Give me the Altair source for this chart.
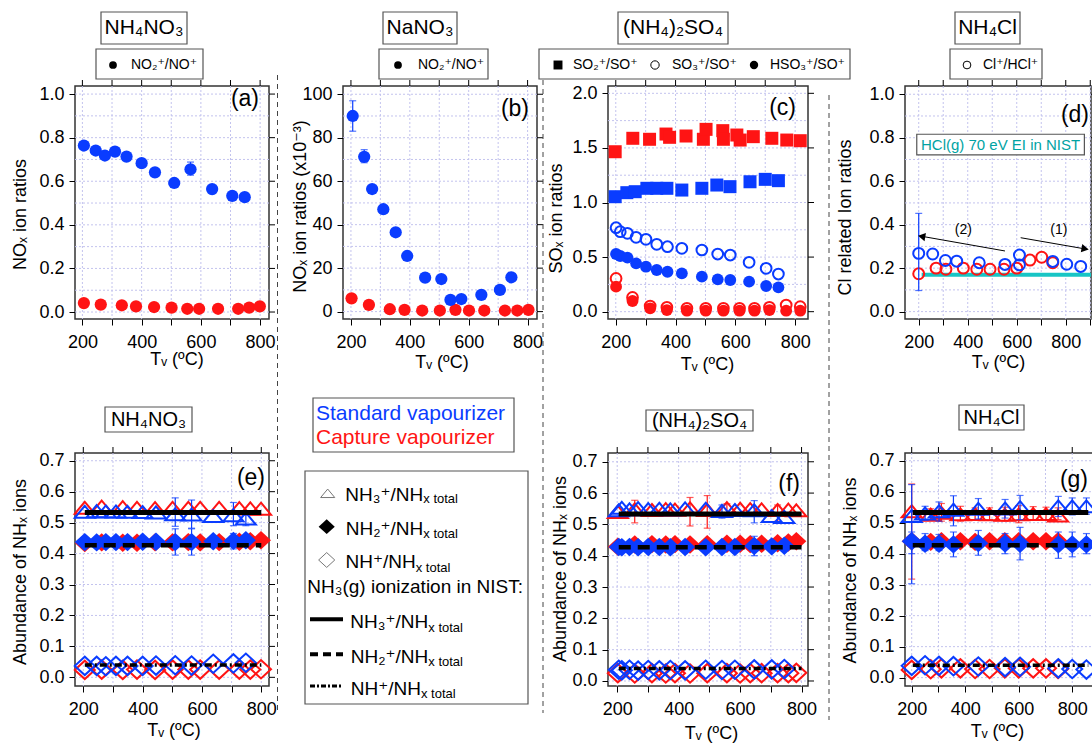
import altair as alt
import pandas as pd

FONT = "Liberation Sans, Arial, DejaVu Sans, sans-serif"
BLUE = "#0a3cff"
RED = "#ff1414"
TEAL_LINE = "#18c5c5"
TEAL_TXT = "#00a3a3"
GRID = "#c3c3ee"
BOX = "#555555"

# ---------------- data ----------------
# (a) NH4NO3  NO2+/NO+
a_std_x = [205, 245, 276, 310, 349, 400, 445, 510, 565, 638, 706, 748]
a_std_y = [0.764, 0.741, 0.718, 0.736, 0.713, 0.683, 0.641, 0.592, 0.655, 0.564, 0.533, 0.527]
a_err_x = [565]
a_err_lo = [0.628]
a_err_hi = [0.688]
a_cap_x = [205, 262, 333, 381, 442, 501, 554, 594, 658, 726, 763, 799]
a_cap_y = [0.041, 0.034, 0.031, 0.026, 0.023, 0.020, 0.015, 0.015, 0.015, 0.015, 0.020, 0.026]

# (b) NaNO3  NO2+/NO+ (x1e-3)
b_std_x = [206, 245, 272, 310, 352, 391, 452, 507, 538, 575, 643, 706, 745]
b_std_y = [90.0, 71.2, 56.4, 47.1, 36.5, 25.6, 15.6, 15.0, 5.4, 5.8, 7.7, 10.0, 15.8]
b_err_x = [206, 245]
b_err_lo = [83.0, 68.5]
b_err_hi = [97.0, 74.5]
b_cap_x = [202, 261, 332, 382, 442, 502, 555, 601, 653, 723, 765, 803]
b_cap_y = [6.1, 3.1, 1.1, 0.8, 0.5, 0.5, 0.8, 0.5, 0.5, 0.5, 0.5, 0.8]

# (c) (NH4)2SO4
c_so2_std_x = [198, 237, 265, 304, 337, 371, 421, 488, 538, 582, 649, 700, 744]
c_so2_std_y = [1.053, 1.090, 1.099, 1.130, 1.130, 1.130, 1.114, 1.130, 1.160, 1.145, 1.190, 1.212, 1.200]
c_so2_cap_x = [198, 257, 313, 368, 380, 435, 493, 502, 558, 560, 605, 616, 660, 722, 772, 817]
c_so2_cap_y = [1.465, 1.588, 1.579, 1.627, 1.597, 1.609, 1.579, 1.670, 1.658, 1.579, 1.618, 1.572, 1.603, 1.588, 1.572, 1.566]
c_std_x = [201, 215, 239, 268, 301, 337, 373, 421, 488, 541, 583, 646, 703, 744]
c_so3_std_y = [0.769, 0.733, 0.718, 0.681, 0.663, 0.617, 0.595, 0.580, 0.565, 0.528, 0.519, 0.452, 0.397, 0.345]
c_hso3_std_y = [0.528, 0.510, 0.495, 0.443, 0.412, 0.382, 0.366, 0.351, 0.321, 0.296, 0.290, 0.275, 0.235, 0.223]
c_cap_x = [201, 256, 315, 371, 438, 501, 560, 614, 664, 714, 770, 817]
c_so3_cap_y = [0.305, 0.131, 0.052, 0.040, 0.031, 0.031, 0.031, 0.031, 0.031, 0.040, 0.061, 0.046]
c_hso3_cap_y = [0.229, 0.098, 0.031, 0.015, 0.009, 0.009, 0.009, 0.009, 0.009, 0.015, 0.009, 0.009]

# (d) NH4Cl  Cl+/HCl+
d_std_x = [200, 257, 309, 355, 447, 552, 611, 611, 747, 804, 861]
d_std_y = [0.268, 0.265, 0.235, 0.232, 0.225, 0.217, 0.260, 0.215, 0.231, 0.218, 0.208]
d_err_x = [200]
d_err_lo = [0.097]
d_err_hi = [0.452]
d_cap_x = [200, 271, 311, 382, 437, 491, 548, 600, 654, 702, 747]
d_cap_y = [0.174, 0.200, 0.195, 0.200, 0.195, 0.195, 0.195, 0.200, 0.237, 0.250, 0.225]
d_nist_x = [212]
d_nist_x2 = [903]
d_nist_y = [0.170]
d_arrow_x = [552, 616]
d_arrow_y = [0.279, 0.340]
d_arrow_x2 = [205, 886]
d_arrow_y2 = [0.348, 0.287]
d_arrow_lab = ["(2)", "(1)"]
d_arrow_lab_x = [382, 772]
d_arrow_lab_y = [0.374, 0.374]
d_hcl_box = [192, 876, 0.721, 0.816]
d_hcl_text = ["HCl(g) 70 eV EI in NIST"]

# (e) NH4NO3 NHx abundances
e_std_x = [205, 245, 276, 310, 349, 400, 445, 510, 565, 638, 706, 748]
e_nh3_std = [0.535, 0.537, 0.536, 0.536, 0.535, 0.534, 0.533, 0.527, 0.526, 0.521, 0.524, 0.513]
e_nh2_std = [0.437, 0.436, 0.437, 0.437, 0.437, 0.438, 0.438, 0.437, 0.437, 0.440, 0.441, 0.443]
e_nh_std = [0.037, 0.037, 0.036, 0.037, 0.037, 0.037, 0.038, 0.039, 0.038, 0.044, 0.045, 0.047]
e_nh3_err_x = [510, 565, 706, 748]
e_nh3_err_lo = [0.488, 0.482, 0.490, 0.490]
e_nh3_err_hi = [0.580, 0.573, 0.565, 0.525]
e_nh2_err_x = [510, 565, 706]
e_nh2_err_lo = [0.395, 0.395, 0.415]
e_nh2_err_hi = [0.480, 0.480, 0.465]
e_cap_x = [205, 262, 333, 381, 442, 501, 554, 594, 658, 726, 763, 799]
e_nh3_cap = [0.548, 0.552, 0.550, 0.548, 0.547, 0.548, 0.548, 0.548, 0.548, 0.547, 0.546, 0.545]
e_nh2_cap = [0.434, 0.436, 0.435, 0.435, 0.436, 0.436, 0.437, 0.436, 0.437, 0.438, 0.440, 0.443]
e_nh_cap = [0.024, 0.025, 0.024, 0.025, 0.024, 0.025, 0.025, 0.025, 0.025, 0.025, 0.025, 0.026]

# (f) (NH4)2SO4 NHx abundances
f_std_x = [205, 215, 240, 268, 301, 337, 373, 421, 488, 541, 583, 646, 703, 744]
f_nh3_std = [0.545, 0.553, 0.548, 0.552, 0.549, 0.550, 0.548, 0.551, 0.550, 0.543, 0.546, 0.545, 0.527, 0.524]
f_nh2_std = [0.428, 0.427, 0.428, 0.427, 0.428, 0.428, 0.427, 0.428, 0.427, 0.428, 0.428, 0.431, 0.430, 0.432]
f_nh_std = [0.036, 0.034, 0.036, 0.033, 0.035, 0.034, 0.035, 0.034, 0.036, 0.035, 0.036, 0.037, 0.037, 0.038]
f_nh3_std_err_x = [541, 646]
f_nh3_std_err_lo = [0.520, 0.505]
f_nh3_std_err_hi = [0.562, 0.576]
f_nh2_std_err_x = [646]
f_nh2_std_err_lo = [0.400]
f_nh2_std_err_hi = [0.462]
f_cap_x = [202, 257, 313, 358, 388, 437, 493, 557, 600, 633, 670, 722, 757, 783]
f_nh3_cap = [0.540, 0.548, 0.546, 0.549, 0.547, 0.551, 0.546, 0.552, 0.550, 0.549, 0.548, 0.546, 0.547, 0.545]
f_nh2_cap = [0.429, 0.436, 0.437, 0.436, 0.437, 0.436, 0.437, 0.438, 0.438, 0.437, 0.438, 0.440, 0.442, 0.446]
f_nh_cap = [0.025, 0.024, 0.025, 0.024, 0.025, 0.024, 0.025, 0.025, 0.024, 0.025, 0.025, 0.025, 0.025, 0.026]
f_nh3_cap_err_x = [257, 437, 493, 557, 722]
f_nh3_cap_err_lo = [0.505, 0.495, 0.488, 0.525, 0.510]
f_nh3_cap_err_hi = [0.577, 0.586, 0.592, 0.566, 0.562]

# (g) NH4Cl NHx abundances
g_std_x = [200, 250, 302, 356, 449, 549, 605, 748, 800, 853]
g_nh3_std = [0.522, 0.530, 0.537, 0.542, 0.545, 0.546, 0.550, 0.553, 0.553, 0.553]
g_nh3_std_lo = [0.303, 0.508, 0.505, 0.490, 0.512, 0.515, 0.510, 0.520, 0.525, 0.527]
g_nh3_std_hi = [0.623, 0.553, 0.567, 0.587, 0.578, 0.575, 0.588, 0.585, 0.580, 0.580]
g_nh2_std = [0.440, 0.432, 0.432, 0.430, 0.434, 0.433, 0.432, 0.430, 0.430, 0.430]
g_nh2_std_lo = [0.400, 0.410, 0.410, 0.390, 0.395, 0.400, 0.380, 0.385, 0.390, 0.400]
g_nh2_std_hi = [0.470, 0.465, 0.462, 0.470, 0.475, 0.465, 0.485, 0.470, 0.470, 0.465]
g_nh_std = [0.038, 0.040, 0.038, 0.037, 0.036, 0.034, 0.035, 0.030, 0.028, 0.026]
g_cap_x = [200, 271, 311, 382, 437, 491, 548, 600, 654, 702, 747]
g_nh3_cap = [0.537, 0.526, 0.532, 0.527, 0.528, 0.527, 0.526, 0.527, 0.528, 0.528, 0.523]
g_nh3_cap_lo = [0.318, 0.510, 0.505, 0.505, 0.510, 0.510, 0.505, 0.500, 0.510, 0.510, 0.510]
g_nh3_cap_hi = [0.625, 0.545, 0.562, 0.553, 0.548, 0.548, 0.550, 0.555, 0.552, 0.550, 0.548]
g_nh2_cap = [0.440, 0.438, 0.440, 0.440, 0.438, 0.440, 0.440, 0.440, 0.440, 0.440, 0.440]
g_nh_cap = [0.025, 0.027, 0.030, 0.030, 0.028, 0.028, 0.030, 0.030, 0.030, 0.030, 0.028]

# NIST NH3(g) reference fractions and their x spans
nist_nh3 = 0.533
nist_nh2 = 0.427
nist_nh = 0.040
e_nist_span = [205, 800]
f_nist_span = [205, 800]
g_nist_span = [204, 860]

# ticks / grid
x_ticks = [200, 300, 400, 500, 600, 700, 800]
x_ticks_d = [200, 300, 400, 500, 600, 700, 800, 900]
y_ticks_1 = [0.0, 0.2, 0.4, 0.6, 0.8, 1.0]
y_grid_1 = [0.0, 0.1, 0.2, 0.3, 0.4, 0.5, 0.6, 0.7, 0.8, 0.9, 1.0]
y_ticks_b = [0, 20, 40, 60, 80, 100]
y_grid_b = [0, 10, 20, 30, 40, 50, 60, 70, 80, 90, 100]
y_ticks_c = [0.0, 0.5, 1.0, 1.5, 2.0]
y_grid_c = [0.0, 0.25, 0.5, 0.75, 1.0, 1.25, 1.5, 1.75, 2.0]
y_ticks_nh = [0.0, 0.1, 0.2, 0.3, 0.4, 0.5, 0.6, 0.7]

XT = "Tᵥ (ºC)"
ONE = pd.DataFrame({"k": [0]})

PANELS = {
    "a": dict(xdom=[175, 830], ydom=[-0.032, 1.037], w=194, h=233, xt=x_ticks, yt=y_ticks_1, yg=y_grid_1,
              fmt=".1f", title="NOₓ ion ratios", ytp=(-55, 128), xtp=(101.5, 40)),
    "b": dict(xdom=[173, 832], ydom=[-3.4, 103.8], w=194, h=233, xt=x_ticks, yt=y_ticks_b, yg=y_grid_b,
              fmt="d", title="NOₓ ion ratios  (x10⁻³)", ytp=(-43, 120), xtp=(98.5, 43)),
    "c": dict(xdom=[174, 843], ydom=[-0.067, 2.067], w=200, h=233, xt=x_ticks, yt=y_ticks_c, yg=y_grid_c,
              fmt=".1f", title="SOₓ ion ratios", ytp=(-51.5, 132), xtp=(99, 45)),
    "d": dict(xdom=[144, 903], ydom=[-0.034, 1.038], w=186, h=233, xt=x_ticks_d, yt=y_ticks_1, yg=y_grid_1,
              fmt=".1f", title="Cl related Ion ratios", ytp=(-59.5, 131), xtp=(93, 43.5)),
    "e": dict(xdom=[172, 826], ydom=[-0.028, 0.725], w=194, h=233, xt=x_ticks, yt=y_ticks_nh, yg=y_ticks_nh,
              fmt=".1f", title="Abundance of NHₓ ions", ytp=(-54.5, 118.5), xtp=(98.5, 44)),
    "f": dict(xdom=[170, 821], ydom=[-0.016, 0.728], w=200, h=233, xt=x_ticks, yt=y_ticks_nh, yg=y_ticks_nh,
              fmt=".1f", title="Abundance of NHₓ ions", ytp=(-47.5, 115.5), xtp=(103, 47)),
    "g": dict(xdom=[175, 900], ydom=[-0.027, 0.725], w=194, h=233, xt=x_ticks_d, yt=y_ticks_nh, yg=y_ticks_nh,
              fmt=".1f", title="Abundance of NHₓ ions", ytp=(-55, 117), xtp=(92, 45.5)),
}

TRI = "M0,-0.6L1,0.6L-1,0.6Z"
DIA = "M-1,0L0,-0.92L1,0L0,0.92Z"


def xenc(p, field="x"):
    return alt.X(f"{field}:Q", scale=alt.Scale(domain=p["xdom"], nice=False, zero=False),
                 axis=alt.Axis(values=p["xt"], format="d",
                               labelExpr="datum.value % 200 == 0 ? datum.label : ''",
                               title=XT, titleX=p["xtp"][0], titleY=p["xtp"][1],
                               titleAlign="center", titleBaseline="middle", labelPadding=8))


def yenc(p, field="y"):
    return alt.Y(f"{field}:Q", scale=alt.Scale(domain=p["ydom"], nice=False, zero=False),
                 axis=alt.Axis(values=p["yt"], format=p["fmt"], title=p["title"],
                               titleX=p["ytp"][0], titleY=p["ytp"][1], titleAngle=270,
                               titleAlign="center", titleBaseline="middle", labelPadding=5))


def pts(p, xs, ys, color, shape, size, filled, sw=2.0):
    df = pd.DataFrame({"x": xs, "y": ys})
    return alt.Chart(df).mark_point(shape=shape, size=size, filled=filled, color=color,
                                    opacity=1, strokeWidth=sw).encode(x=xenc(p), y=yenc(p))


def err(p, xs, lo, hi, color):
    df = pd.DataFrame({"x": xs, "lo": lo, "hi": hi})
    b = alt.Chart(df)
    r = b.mark_rule(color=color, strokeWidth=1.2).encode(x=xenc(p), y=yenc(p, "lo"), y2=alt.Y2("hi"))
    c1 = b.mark_tick(orient="horizontal", color=color, size=7, thickness=1.2).encode(x=xenc(p), y=yenc(p, "lo"))
    c2 = b.mark_tick(orient="horizontal", color=color, size=7, thickness=1.2).encode(x=xenc(p), y=yenc(p, "hi"))
    return [r, c1, c2]


def hline(p, span, yv, dash, sw, color="black"):
    df = pd.DataFrame({"x": [span[0]], "x2": [span[1]], "y": [yv]})
    kw = dict(color=color, strokeWidth=sw)
    if dash:
        kw["strokeDash"] = dash
    return alt.Chart(df).mark_rule(**kw).encode(x=xenc(p), x2=alt.X2("x2"), y=yenc(p))


def box(x1, x2, y1, y2, sw=1.2):
    return alt.Chart(ONE).mark_rect(fill="white", stroke=BOX, strokeWidth=sw).encode(
        x=alt.value(x1), x2=alt.value(x2), y=alt.value(y1), y2=alt.value(y2))


def txt(s, x, y, size, align="center", color="black", baseline="middle"):
    return alt.Chart(ONE).mark_text(text=s, fontSize=size, align=align, baseline=baseline,
                                    color=color, font=FONT).encode(x=alt.value(x), y=alt.value(y))


def sym(x, y, shape, size, filled, color="black", sw=1.0):
    return alt.Chart(ONE).mark_point(shape=shape, size=size, filled=filled, color=color, opacity=1,
                                     strokeWidth=sw).encode(x=alt.value(x), y=alt.value(y))


def vsep(x, y1, y2):
    return alt.Chart(ONE).mark_rule(color="#444444", strokeDash=[5, 4], strokeWidth=1).encode(
        x=alt.value(x), y=alt.value(y1), y2=alt.value(y2))


def panel(p, layers, extra):
    w, h = p["w"], p["h"]
    X, Y = xenc(p), yenc(p)
    gv = alt.Chart(pd.DataFrame({"x": p["xt"]})).mark_rule(color=GRID, strokeDash=[2, 2], strokeWidth=1).encode(
        x=X, y=alt.value(0), y2=alt.value(h))
    gh = alt.Chart(pd.DataFrame({"y": p["yg"]})).mark_rule(color=GRID, strokeDash=[2, 2], strokeWidth=1).encode(
        y=Y, x=alt.value(0), x2=alt.value(w))
    tt = alt.Chart(pd.DataFrame({"x": p["xt"]})).mark_rule(color="black", strokeWidth=1).encode(
        x=X, y=alt.value(-6), y2=alt.value(0))
    rt = alt.Chart(pd.DataFrame({"y": p["yt"]})).mark_rule(color="black", strokeWidth=1).encode(
        y=Y, x=alt.value(w), x2=alt.value(w + 6))
    return alt.layer(gv, gh, *layers, tt, rt, *extra).properties(width=w, height=h)


# ---------------- panel (a) ----------------
pa = PANELS["a"]
chart_a = panel(pa, [
    pts(pa, a_cap_x, a_cap_y, RED, "circle", 150, True),
    *err(pa, a_err_x, a_err_lo, a_err_hi, BLUE),
    pts(pa, a_std_x, a_std_y, BLUE, "circle", 150, True),
], [
    txt("(a)", 184, 13, 23, align="right"),
    box(26, 112, -74, -42), txt("NH₄NO₃", 69, -58, 21),
    box(21, 128, -37, -7), sym(38, -21, "circle", 60, True), txt("NO₂⁺/NO⁺", 56, -21, 14, align="left"),
    vsep(202.5, -11, 627),
])

# ---------------- panel (b) ----------------
pb = PANELS["b"]
chart_b = panel(pb, [
    pts(pb, b_cap_x, b_cap_y, RED, "circle", 150, True),
    *err(pb, b_err_x, b_err_lo, b_err_hi, BLUE),
    pts(pb, b_std_x, b_std_y, BLUE, "circle", 150, True),
], [
    txt("(b)", 186, 23, 23, align="right"),
    box(40, 114, -74, -42), txt("NaNO₃", 77, -58, 21),
    box(36, 145, -37, -7), sym(55, -21, "circle", 60, True), txt("NO₂⁺/NO⁺", 75, -21, 14, align="left"),
    vsep(200, -6, 627),
])

# ---------------- panel (c) ----------------
pc = PANELS["c"]
chart_c = panel(pc, [
    pts(pc, c_so2_cap_x, c_so2_cap_y, RED, "square", 169, True),
    pts(pc, c_cap_x, c_hso3_cap_y, RED, "circle", 140, True),
    pts(pc, c_cap_x, c_so3_cap_y, RED, "circle", 115, False),
    pts(pc, c_so2_std_x, c_so2_std_y, BLUE, "square", 169, True),
    pts(pc, c_std_x, c_hso3_std_y, BLUE, "circle", 140, True),
    pts(pc, c_std_x, c_so3_std_y, BLUE, "circle", 115, False),
], [
    txt("(c)", 188, 22, 23, align="right"),
    box(10, 120, -74, -42), txt("(NH₄)₂SO₄", 65, -58, 21),
    box(-69, 242, -37, -7),
    sym(-50, -21, "square", 80, True), txt("SO₂⁺/SO⁺", -35, -21, 14, align="left"),
    sym(47, -21, "circle", 70, False), txt("SO₃⁺/SO⁺", 64, -21, 14, align="left"),
    sym(146, -21, "circle", 70, True), txt("HSO₃⁺/SO⁺", 162, -21, 14, align="left"),
    vsep(221, 9, 634),
])

# ---------------- panel (d) ----------------
pd_ = PANELS["d"]
arrows = pd.DataFrame({"x": d_arrow_x, "y": d_arrow_y, "x2": d_arrow_x2, "y2": d_arrow_y2})
arrow_lab = pd.DataFrame({"x": d_arrow_lab_x, "y": d_arrow_lab_y, "t": d_arrow_lab})
head_l = pd.DataFrame({"x": [d_arrow_x2[0] + 7], "y": [d_arrow_y2[0] - 0.002]})
head_r = pd.DataFrame({"x": [d_arrow_x2[1] - 7], "y": [d_arrow_y2[1] + 0.002]})
hcl_rect = pd.DataFrame({"x": [d_hcl_box[0]], "x2": [d_hcl_box[1]], "y": [d_hcl_box[2]], "y2": [d_hcl_box[3]]})
hcl_txt = pd.DataFrame({"x": [(d_hcl_box[0] + d_hcl_box[1]) / 2], "y": [(d_hcl_box[2] + d_hcl_box[3]) / 2],
                        "t": d_hcl_text})
Xd, Yd = xenc(pd_), yenc(pd_)
chart_d = panel(pd_, [
    alt.Chart(hcl_rect).mark_rect(fill="white", stroke=BOX, strokeWidth=1.2).encode(
        x=Xd, x2=alt.X2("x2"), y=Yd, y2=alt.Y2("y2")),
    alt.Chart(hcl_txt).mark_text(fontSize=15, color=TEAL_TXT, font=FONT).encode(x=Xd, y=Yd, text="t:N"),
    hline(pd_, [d_nist_x[0], d_nist_x2[0]], d_nist_y[0], None, 4, TEAL_LINE),
    pts(pd_, d_cap_x, d_cap_y, RED, "circle", 120, False),
    *err(pd_, d_err_x, d_err_lo, d_err_hi, BLUE),
    pts(pd_, d_std_x, d_std_y, BLUE, "circle", 120, False),
    alt.Chart(arrows).mark_rule(color="black", strokeWidth=1).encode(x=Xd, y=Yd, x2=alt.X2("x2"), y2=alt.Y2("y2")),
    alt.Chart(head_l).mark_point(shape="triangle-left", size=70, filled=True, color="black", opacity=1,
                                 angle=10).encode(x=Xd, y=Yd),
    alt.Chart(head_r).mark_point(shape="triangle-right", size=70, filled=True, color="black", opacity=1,
                                 angle=10).encode(x=Xd, y=Yd),
    alt.Chart(arrow_lab).mark_text(fontSize=14, font=FONT, color="black").encode(x=Xd, y=Yd, text="t:N"),
], [
    txt("(d)", 184, 29, 23, align="right"),
    box(50, 115, -74, -42), txt("NH₄Cl", 82.5, -58, 21),
    box(45, 137, -37, -7), sym(62, -21, "circle", 60, False), txt("Cl⁺/HCl⁺", 78, -21, 14, align="left"),
])


# ---------------- NHx panels ----------------
def nh_layers(p, sx, s3, s2, s1, cx, c3, c2, c1, errs, span):
    L = [
        pts(p, cx, c1, RED, DIA, 400, False),
        pts(p, sx, s1, BLUE, DIA, 400, False),
        pts(p, cx, c3, RED, TRI, 400, False),
        pts(p, cx, c2, RED, DIA, 400, True),
    ]
    for (xs, lo, hi, col) in errs:
        L += err(p, xs, lo, hi, col)
    L += [
        pts(p, sx, s3, BLUE, TRI, 400, False),
        pts(p, sx, s2, BLUE, DIA, 400, True),
        hline(p, span, nist_nh3, None, 5),
        hline(p, span, nist_nh2, [12, 7], 4.5),
        hline(p, span, nist_nh, [7, 3, 2, 3], 3.5),
    ]
    return L


pe = PANELS["e"]
chart_e = panel(pe, nh_layers(pe, e_std_x, e_nh3_std, e_nh2_std, e_nh_std,
                              e_cap_x, e_nh3_cap, e_nh2_cap, e_nh_cap,
                              [(e_nh3_err_x, e_nh3_err_lo, e_nh3_err_hi, BLUE),
                               (e_nh2_err_x, e_nh2_err_lo, e_nh2_err_hi, BLUE)], e_nist_span),
                [txt("(e)", 190, 25, 23, align="right"),
                 box(30, 117, -46, -21), txt("NH₄NO₃", 73.5, -33.5, 20)])

pf = PANELS["f"]
chart_f = panel(pf, nh_layers(pf, f_std_x, f_nh3_std, f_nh2_std, f_nh_std,
                              f_cap_x, f_nh3_cap, f_nh2_cap, f_nh_cap,
                              [(f_nh3_cap_err_x, f_nh3_cap_err_lo, f_nh3_cap_err_hi, RED),
                               (f_nh3_std_err_x, f_nh3_std_err_lo, f_nh3_std_err_hi, BLUE),
                               (f_nh2_std_err_x, f_nh2_std_err_lo, f_nh2_std_err_hi, BLUE)], f_nist_span),
                [txt("(f)", 192, 31, 23, align="right"),
                 box(38, 145, -43, -22), txt("(NH₄)₂SO₄", 91.5, -32.5, 20)])

pg = PANELS["g"]
chart_g = panel(pg, nh_layers(pg, g_std_x, g_nh3_std, g_nh2_std, g_nh_std,
                              g_cap_x, g_nh3_cap, g_nh2_cap, g_nh_cap,
                              [(g_cap_x, g_nh3_cap_lo, g_nh3_cap_hi, RED),
                               (g_std_x, g_nh3_std_lo, g_nh3_std_hi, BLUE),
                               (g_std_x, g_nh2_std_lo, g_nh2_std_hi, BLUE)], g_nist_span),
                [txt("(g)", 183, 27, 23, align="right"),
                 box(54, 119, -48, -23), txt("NH₄Cl", 86.5, -35.5, 20)])

# ---------------- legend cell ----------------
LG = "#777777"
leg_layers = [
    box(-30, 171, -55, -1),
    txt("Standard vapourizer", -27, -33, 21, align="left", color=BLUE, baseline="alphabetic"),
    txt("Capture vapourizer", -27, -9.5, 21, align="left", color=RED, baseline="alphabetic"),
    box(-38, 185, 18, 251),
    sym(-15.3, 40.3, TRI, 200, False, LG, 1),
    sym(-16.3, 73.7, DIA, 260, True, "black", 1),
    sym(-16.3, 107, DIA, 260, False, LG, 1),
    txt("NH₃⁺/NH", 80.3, 47.7, 19, align="right", baseline="alphabetic"),
    txt("x total", 80.3, 50.3, 13, align="left", baseline="alphabetic"),
    txt("NH₂⁺/NH", 80.3, 82, 19, align="right", baseline="alphabetic"),
    txt("x total", 80.3, 85.3, 13, align="left", baseline="alphabetic"),
    txt("NH⁺/NH", 72.7, 115.3, 19, align="right", baseline="alphabetic"),
    txt("x total", 72.7, 118.7, 13, align="left", baseline="alphabetic"),
    txt("NH₃(g) ionization in NIST:", -35.7, 140.3, 19, align="left", baseline="alphabetic"),
    alt.Chart(ONE).mark_rule(color="black", strokeWidth=4).encode(
        x=alt.value(-33), x2=alt.value(0), y=alt.value(166.3)),
    alt.Chart(ONE).mark_rule(color="black", strokeWidth=4, strokeDash=[8, 5]).encode(
        x=alt.value(-33), x2=alt.value(0), y=alt.value(201.3)),
    alt.Chart(ONE).mark_rule(color="black", strokeWidth=3, strokeDash=[5, 2, 2, 2]).encode(
        x=alt.value(-33), x2=alt.value(0), y=alt.value(233)),
    txt("NH₃⁺/NH", 85.3, 175.3, 19, align="right", baseline="alphabetic"),
    txt("x total", 85.3, 178.7, 13, align="left", baseline="alphabetic"),
    txt("NH₂⁺/NH", 85.3, 209.7, 19, align="right", baseline="alphabetic"),
    txt("x total", 85.3, 213, 13, align="left", baseline="alphabetic"),
    txt("NH⁺/NH", 78, 242, 19, align="right", baseline="alphabetic"),
    txt("x total", 78, 245.3, 13, align="left", baseline="alphabetic"),
]
chart_leg = alt.layer(*leg_layers).properties(width=194, height=233,
                                              view=alt.ViewBackground(stroke="transparent"))


def spacer(w):
    return alt.Chart(ONE).mark_point(opacity=0).encode(x=alt.value(0), y=alt.value(0)).properties(
        width=w, height=233, view=alt.ViewBackground(stroke="transparent"))


chart = alt.concat(
    chart_a, spacer(74), chart_b, spacer(71), chart_c, spacer(97), chart_d,
    chart_e, spacer(74), chart_leg, spacer(71), chart_f, spacer(97), chart_g,
    columns=7, spacing={"row": 134, "column": 0}, bounds="flush",
).properties(
    autosize=alt.AutoSizeParams(type="none"),
    padding={"left": 75, "top": 86, "right": 1017, "bottom": 658},
    background="white",
).configure_view(
    stroke="#333333", strokeWidth=1.5
).configure_axis(
    labelFont=FONT, titleFont=FONT, labelFontSize=18, titleFontSize=18, titleFontWeight="normal",
    labelColor="black", titleColor="black", tickColor="black", tickSize=6, tickWidth=1,
    domain=False, grid=False, labelFlush=False, labelOverlap=False,
)

chart.save("out.html", embed_options={"renderer": "svg", "actions": False})
